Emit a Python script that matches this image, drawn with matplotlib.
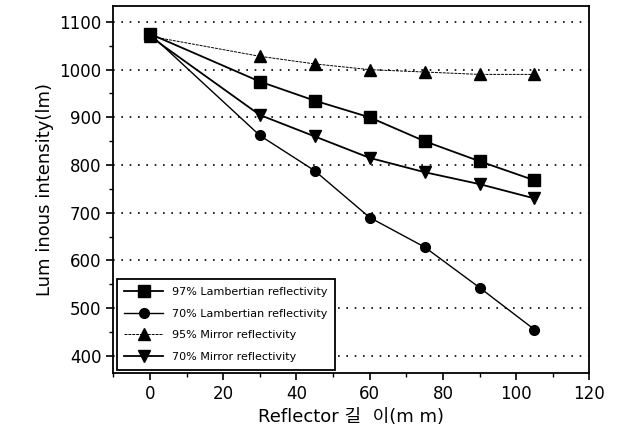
import matplotlib
matplotlib.use("Agg")
import matplotlib.pyplot as plt
from matplotlib.ticker import MultipleLocator

plt.rcParams['font.family'] = ['DejaVu Sans', 'Noto Sans CJK KR']

# Reflector length (mm)
length = [0, 30, 45, 60, 75, 90, 105]

lamb97 = [1075, 975, 935, 900, 850, 808, 768]
lamb70 = [1075, 862, 788, 690, 628, 543, 455]
mirr95 = [1070, 1028, 1012, 1000, 995, 990, 990]
mirr70 = [1070, 905, 860, 815, 785, 760, 730]

labels = ["97% Lambertian reflectivity", "70% Lambertian reflectivity",
          "95% Mirror reflectivity", "70% Mirror reflectivity"]

fig = plt.figure(figsize=(6.4, 4.43), dpi=100)
ax = fig.add_axes([0.177, 0.158, 0.744, 0.828])

style = dict(color='black', markeredgecolor='black')
ax.plot(length, lamb97, marker='s', markersize=8, lw=1.3, label=labels[0], **style)
ax.plot(length, lamb70, marker='o', markersize=7, lw=1.0, label=labels[1], **style)
ax.plot(length, mirr95, marker='^', markersize=8, lw=0.7, ls=(0, (3, 1)), label=labels[2], **style)
ax.plot(length, mirr70, marker='v', markersize=9, lw=1.3, label=labels[3], **style)

ax.set_xlim(-10, 120)
ax.set_ylim(364, 1133)
ax.set_xticks([0, 20, 40, 60, 80, 100, 120])
ax.set_yticks(range(400, 1101, 100))
ax.xaxis.set_minor_locator(MultipleLocator(10))
ax.yaxis.set_minor_locator(MultipleLocator(50))
ax.tick_params(which='major', direction='out', length=5, width=1.2, labelsize=12)
ax.tick_params(which='minor', direction='out', length=3, width=1)
for s in ax.spines.values():
    s.set_linewidth(1.3)

ax.yaxis.grid(True, ls=(0, (1, 4)), color='black', lw=1.2)

ax.set_xlabel("Reflector 길  이(m m)", fontsize=13)
ax.set_ylabel("Lum inous intensity(lm)", fontsize=13)

leg = ax.legend(loc='lower left', fontsize=8, frameon=True, fancybox=False,
                edgecolor='black', framealpha=1, handlelength=3.5,
                borderaxespad=0.3, labelspacing=1.05, borderpad=0.7)
leg.get_frame().set_linewidth(1.3)

fig.savefig("out.png", dpi=100)
